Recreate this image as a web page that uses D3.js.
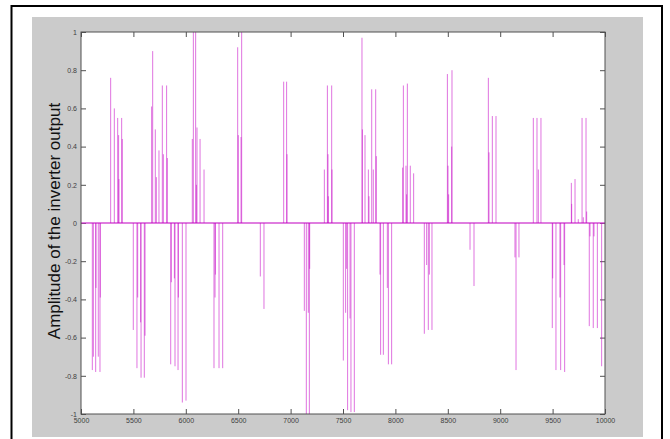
<!DOCTYPE html>
<html>
<head>
<meta charset="utf-8">
<script src="https://cdn.jsdelivr.net/npm/d3@7/dist/d3.min.js"></script>
<style>
  html, body { margin: 0; padding: 0; background: #ffffff; }
  svg { display: block; }
</style>
</head>
<body>
<svg id="chart" width="670" height="439"></svg>
<script>
// ---- data ----
const xTicks = [5000, 5500, 6000, 6500, 7000, 7500, 8000, 8500, 9000, 9500, 10000];
const yTicks = [-1, -0.8, -0.6, -0.4, -0.2, 0, 0.2, 0.4, 0.6, 0.8, 1];
const yLabel = "Amplitude of the inverter output";

// sample positions of the pulses and their amplitudes
const pulseTimes = [
  5283, 5318, 5350, 5359, 5362, 5388, 5394,
  5674, 5684, 5709, 5719, 5744, 5776, 5786, 5817, 5824,
  6062, 6072, 6094, 6101, 6107, 6136, 6174,
  6495, 6501, 6527, 6533,
  6934, 6962, 6966,
  7322, 7351, 7357, 7360, 7392, 7395,
  7681, 7685, 7710, 7742, 7748, 7774, 7789, 7812, 7818,
  8069, 8076, 8101, 8107, 8114, 8142, 8174,
  8496, 8502, 8508, 8537, 8540,
  8887, 8893, 8925, 8960,
  9316, 9351, 9364, 9389,
  9679, 9682, 9714, 9745, 9781, 9793, 9819, 9825,
  5108, 5118, 5140, 5143, 5165, 5181, 5184,
  5499, 5534, 5541, 5569, 5573, 5604, 5611,
  5856, 5862, 5891, 5897, 5926, 5929, 5967, 6002,
  6269, 6279, 6282, 6317, 6352,
  6711, 6746,
  7131, 7150, 7169, 7179, 7182,
  7503, 7525, 7535, 7544, 7567, 7576, 7608,
  7853, 7859, 7885, 7923, 7933, 7964,
  8276, 8298, 8314, 8324, 8349,
  8712, 8750,
  9141, 9151, 9179,
  9497, 9501, 9532, 9570, 9577, 9609, 9615,
  9850, 9857, 9888, 9895, 9927, 9968
];
const pulseAmps = [
  0.76, 0.60, 0.55, 0.46, 0.23, 0.55, 0.44,
  0.61, 0.90, 0.49, 0.24, 0.38, 0.72, 0.36, 0.72, 0.34,
  0.44, 1.00, 1.00, 0.20, 0.50, 0.44, 0.28,
  0.92, 0.46, 0.45, 1.00,
  0.74, 0.74, 0.36,
  0.28, 0.72, 0.36, 0.14, 0.72, 0.28,
  0.97, 0.49, 0.46, 0.28, 0.14, 0.70, 0.28, 0.70, 0.35,
  0.29, 0.72, 0.30, 0.15, 0.73, 0.30, 0.26,
  0.78, 0.30, 0.15, 0.40, 0.80,
  0.76, 0.37, 0.56, 0.56,
  0.55, 0.55, 0.28, 0.55,
  0.21, 0.10, 0.23, 0.02, 0.55, 0.03, 0.55, 0.06,
  -0.77, -0.70, -0.78, -0.34, -0.70, -0.78, -0.39,
  -0.56, -0.76, -0.39, -0.52, -0.81, -0.81, -0.59,
  -0.74, -0.31, -0.29, -0.75, -0.77, -0.39, -0.94, -0.93,
  -0.76, -0.39, -0.27, -0.76, -0.76,
  -0.28, -0.45,
  -0.46, -1.00, -0.47, -1.00, -0.24,
  -0.72, -0.47, -0.24, -0.98, -0.50, -0.99, -0.99,
  -0.27, -0.69, -0.69, -0.34, -0.74, -0.74,
  -0.58, -0.22, -0.56, -0.27, -0.56,
  -0.14, -0.33,
  -0.18, -0.77, -0.18,
  -0.55, -0.29, -0.77, -0.39, -0.77, -0.22, -0.78,
  -0.54, -0.07, -0.55, -0.07, -0.55, -0.75
];

// ---- drawing ----
(function () {
const svg = d3.select("#chart");

// outer black frame
svg.append("rect")
  .attr("x", 11.5).attr("y", 6).attr("width", 650.5).attr("height", 445)
  .attr("fill", "#ffffff").attr("stroke", "#000000").attr("stroke-width", 2);

// grey figure background
svg.append("rect")
  .attr("x", 32).attr("y", 17).attr("width", 611).attr("height", 420)
  .attr("fill", "#cbcbcb");

const pL = 81, pR = 605, pT = 32, pB = 414;
const x = d3.scaleLinear().domain([5000, 10000]).range([pL, pR]);
const y = d3.scaleLinear().domain([-1, 1]).range([pB, pT]);

// plot area
svg.append("rect")
  .attr("x", pL).attr("y", pT).attr("width", pR - pL).attr("height", pB - pT)
  .attr("fill", "#ffffff");

const fmt = d => String(Math.round(d * 10) / 10);

function styleAxis(g) {
  g.select(".domain").remove();
  g.selectAll(".tick line").attr("stroke", "#505050");
  g.selectAll(".tick text")
    .attr("fill", "#404040")
    .style("font-family", "Arial, 'Liberation Sans', sans-serif")
    .style("font-size", "7px");
}

svg.append("g").attr("transform", `translate(0,${pB})`)
  .call(d3.axisBottom(x).tickValues(xTicks).tickSize(-5).tickPadding(4).tickFormat(d => String(d)))
  .call(styleAxis);
svg.append("g").attr("transform", `translate(0,${pT})`)
  .call(d3.axisTop(x).tickValues(xTicks).tickSize(-5).tickFormat(""))
  .call(styleAxis);
svg.append("g").attr("transform", `translate(${pL},0)`)
  .call(d3.axisLeft(y).tickValues(yTicks).tickSize(-5).tickPadding(4).tickFormat(fmt))
  .call(styleAxis);
svg.append("g").attr("transform", `translate(${pR},0)`)
  .call(d3.axisRight(y).tickValues(yTicks).tickSize(-5).tickFormat(""))
  .call(styleAxis);

// signal: zero baseline and pulses
const sig = svg.append("g");
sig.append("line")
  .attr("x1", x(5000)).attr("x2", x(10000))
  .attr("y1", y(0)).attr("y2", y(0))
  .attr("stroke", "#cc33cc").attr("stroke-width", 1.3).attr("stroke-opacity", 0.85);

const pulses = pulseTimes.map((t, i) => ({ t, a: pulseAmps[i] }));
sig.selectAll("line.pulse").data(pulses).join("line")
  .attr("class", "pulse")
  .attr("x1", d => x(d.t)).attr("x2", d => x(d.t))
  .attr("y1", y(0)).attr("y2", d => y(d.a))
  .attr("stroke", "#c400c4").attr("stroke-width", 1).attr("stroke-opacity", 0.55);

// plot box
svg.append("rect")
  .attr("x", pL).attr("y", pT).attr("width", pR - pL).attr("height", pB - pT)
  .attr("fill", "none").attr("stroke", "#505050").attr("stroke-width", 1);

// y label
svg.append("text")
  .attr("transform", `translate(60,221) rotate(-90)`)
  .attr("text-anchor", "middle")
  .attr("fill", "#111111")
  .style("font-family", "Arial, 'Liberation Sans', sans-serif")
  .style("font-size", "17px")
  .text(yLabel);
})();
</script>
</body>
</html>
